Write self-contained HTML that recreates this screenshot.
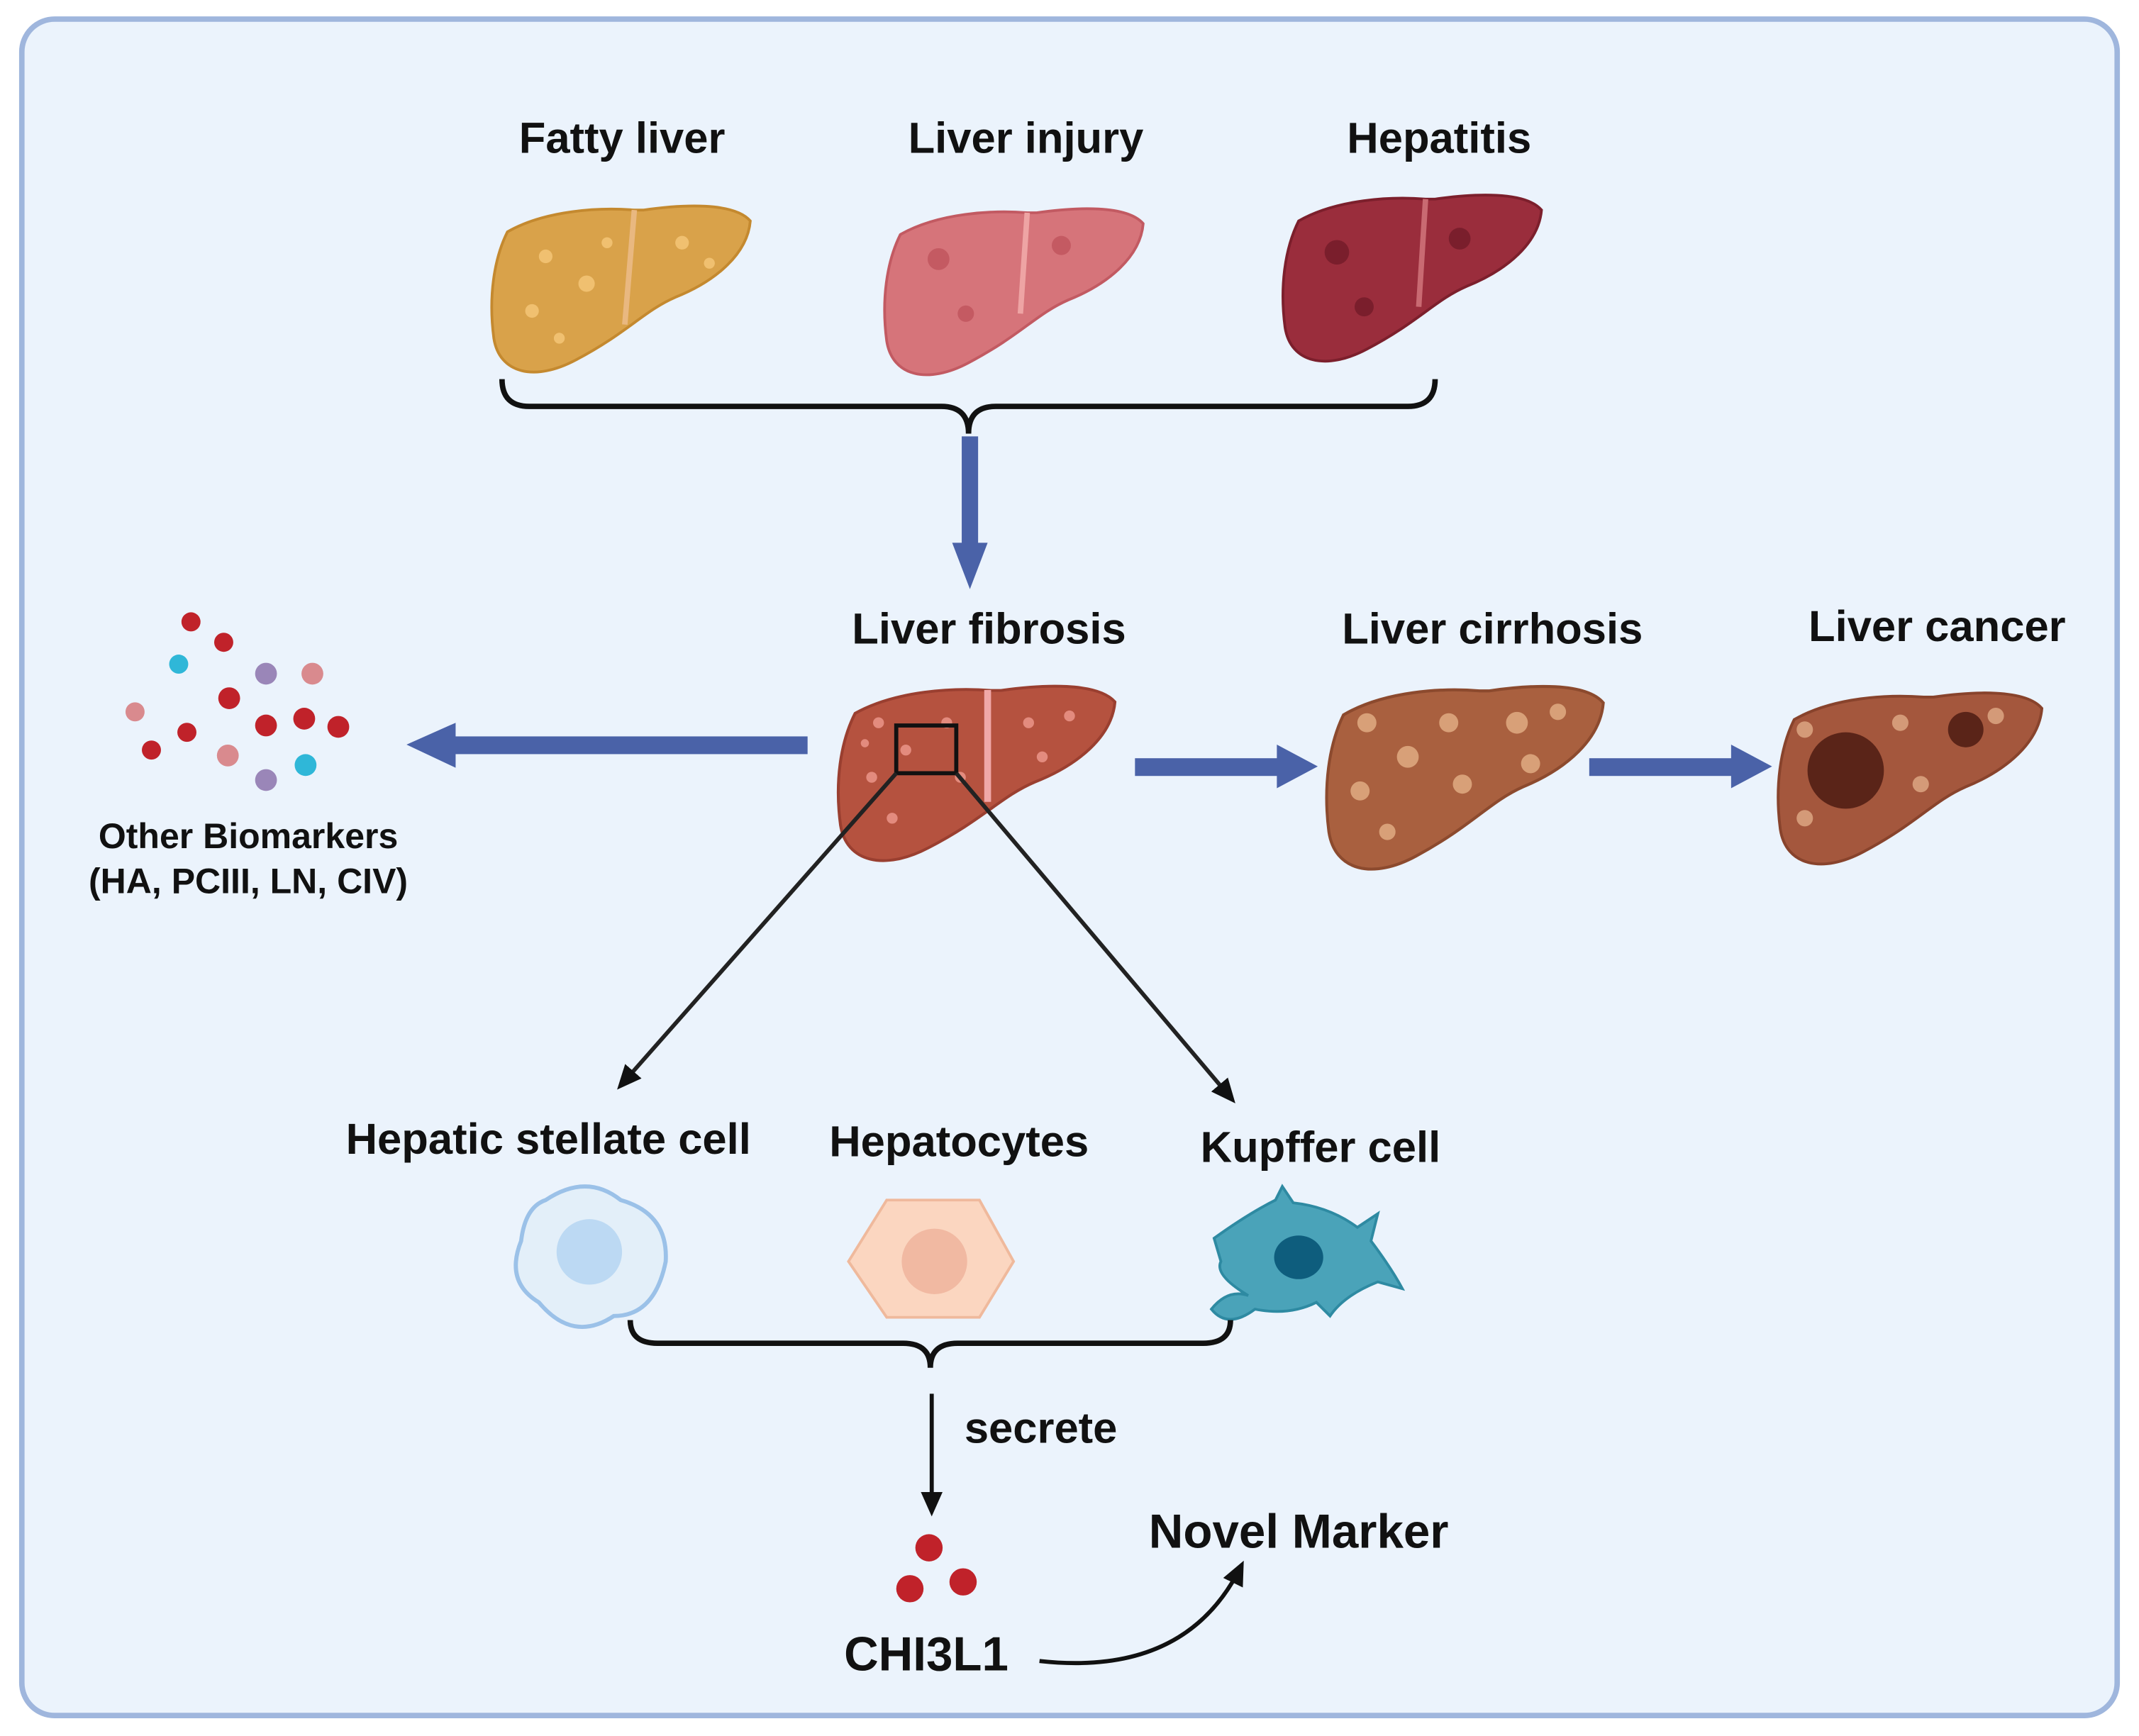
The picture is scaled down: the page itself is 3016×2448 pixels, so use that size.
<!DOCTYPE html>
<html><head><meta charset="utf-8"><style>
html,body{margin:0;padding:0;background:#fff;}
svg{display:block;}
text{font-family:"Liberation Sans",Arial,sans-serif;font-weight:bold;fill:#111;}
</style></head><body>
<svg width="3016" height="2448" viewBox="0 0 1568 1273" preserveAspectRatio="none" xmlns="http://www.w3.org/2000/svg">
<defs>
<path id="liv" d="M12,22 C40,6 80,4 105,6 L112,6 C140,2 178,0 190,14 C188,38 165,58 135,70 C112,80 100,96 62,116 C32,132 6,126 2,100 C-2,70 2,42 12,22 Z"/>
<marker id="ah" markerWidth="18" markerHeight="16" refX="14" refY="8" orient="auto" markerUnits="userSpaceOnUse"><path d="M0,0 L18,8 L0,16 Z" fill="#111"/></marker>
</defs>
<rect x="16" y="14" width="1536" height="1244" rx="24" fill="#ebf3fc" stroke="#9fb6dd" stroke-width="4"/>

<text x="456" y="112" font-size="32" text-anchor="middle">Fatty liver</text>
<text x="752" y="112" font-size="32" text-anchor="middle">Liver injury</text>
<text x="1055" y="112" font-size="32" text-anchor="middle">Hepatitis</text>

<g transform="translate(360,148)"><use href="#liv" fill="#d9a24a" stroke="#c4892f" stroke-width="2"/><line x1="105" y1="6" x2="98" y2="90" stroke="#e9b880" stroke-width="4"/>
<circle cx="40" cy="40" r="5" fill="#f0c070"/><circle cx="70" cy="60" r="6" fill="#f0c070"/><circle cx="30" cy="80" r="5" fill="#f0c070"/><circle cx="140" cy="30" r="5" fill="#f0c070"/><circle cx="160" cy="45" r="4" fill="#f0c070"/><circle cx="85" cy="30" r="4" fill="#f0c070"/><circle cx="50" cy="100" r="4" fill="#f0c070"/></g>
<g transform="translate(648,150)"><use href="#liv" fill="#d6747a" stroke="#c25a62" stroke-width="2"/><line x1="105" y1="6" x2="100" y2="80" stroke="#eea4a4" stroke-width="4"/>
<circle cx="40" cy="40" r="8" fill="#c45a62"/><circle cx="130" cy="30" r="7" fill="#c45a62"/><circle cx="60" cy="80" r="6" fill="#c45a62"/></g>
<g transform="translate(940,140)"><use href="#liv" fill="#9a2d3c" stroke="#7c1f2c" stroke-width="2"/><line x1="105" y1="6" x2="100" y2="85" stroke="#c96a72" stroke-width="4"/>
<circle cx="40" cy="45" r="9" fill="#7a1e2c"/><circle cx="130" cy="35" r="8" fill="#7a1e2c"/><circle cx="60" cy="85" r="7" fill="#7a1e2c"/></g>

<path d="M368,278 Q368,298 388,298 L690,298 Q710,298 710,318 Q710,298 730,298 L1032,298 Q1052,298 1052,278" fill="none" stroke="#111" stroke-width="4"/>
<rect x="705" y="320" width="12" height="80" fill="#4a62a8"/><path d="M698,398 L724,398 L711,432 Z" fill="#4a62a8"/>

<text x="725" y="472" font-size="32" text-anchor="middle">Liver fibrosis</text>
<text x="1094" y="472" font-size="32" text-anchor="middle">Liver cirrhosis</text>
<text x="1420" y="470" font-size="32" text-anchor="middle">Liver cancer</text>

<g transform="translate(614,500)"><use href="#liv" fill="#b5523f" stroke="#9a3f30" stroke-width="2" transform="scale(1.07,1.05)"/><line x1="110" y1="6" x2="110" y2="88" stroke="#f0a8a8" stroke-width="5"/>
<g fill="#e38b7e"><circle cx="30" cy="30" r="4"/><circle cx="50" cy="50" r="4"/><circle cx="25" cy="70" r="4"/><circle cx="80" cy="30" r="4"/><circle cx="140" cy="30" r="4"/><circle cx="170" cy="25" r="4"/><circle cx="150" cy="55" r="4"/><circle cx="40" cy="100" r="4"/><circle cx="90" cy="70" r="4"/><circle cx="20" cy="45" r="3"/></g></g>
<rect x="657" y="532" width="44" height="35" fill="none" stroke="#111" stroke-width="3"/>
<line x1="657" y1="567" x2="455" y2="796" stroke="#222" stroke-width="3" marker-end="url(#ah)"/>
<line x1="701" y1="567" x2="903" y2="806" stroke="#222" stroke-width="3" marker-end="url(#ah)"/>

<g transform="translate(972,500)"><use href="#liv" fill="#a9603f" stroke="#8c4a2e" stroke-width="2" transform="scale(1.07,1.1)"/>
<g fill="#d8a078"><circle cx="30" cy="30" r="7"/><circle cx="60" cy="55" r="8"/><circle cx="25" cy="80" r="7"/><circle cx="90" cy="30" r="7"/><circle cx="140" cy="30" r="8"/><circle cx="170" cy="22" r="6"/><circle cx="150" cy="60" r="7"/><circle cx="45" cy="110" r="6"/><circle cx="100" cy="75" r="7"/></g></g>
<g transform="translate(1303,505)"><use href="#liv" fill="#a4573d" stroke="#88432c" stroke-width="2" transform="scale(1.02,1.03)"/>
<circle cx="50" cy="60" r="28" fill="#5a2418"/><circle cx="138" cy="30" r="13" fill="#5a2418"/>
<g fill="#d49a78"><circle cx="20" cy="30" r="6"/><circle cx="90" cy="25" r="6"/><circle cx="160" cy="20" r="6"/><circle cx="20" cy="95" r="6"/><circle cx="105" cy="70" r="6"/></g></g>

<rect x="832" y="556" width="106" height="13" fill="#4a62a8"/><path d="M936,546 L966,562 L936,578 Z" fill="#4a62a8"/>
<rect x="1165" y="556" width="106" height="13" fill="#4a62a8"/><path d="M1269,546 L1299,562 L1269,578 Z" fill="#4a62a8"/>
<rect x="332" y="540" width="260" height="13" fill="#4a62a8"/><path d="M334,530 L298,546 L334,563 Z" fill="#4a62a8"/>

<g>
<circle cx="140" cy="456" r="7" fill="#c0222a"/><circle cx="164" cy="471" r="7" fill="#c0222a"/><circle cx="131" cy="487" r="7" fill="#2fb7d8"/>
<circle cx="195" cy="494" r="8" fill="#9a86b8"/><circle cx="229" cy="494" r="8" fill="#d98a8e"/><circle cx="99" cy="522" r="7" fill="#d98a8e"/>
<circle cx="168" cy="512" r="8" fill="#c0222a"/><circle cx="137" cy="537" r="7" fill="#c0222a"/><circle cx="111" cy="550" r="7" fill="#c0222a"/>
<circle cx="195" cy="532" r="8" fill="#c0222a"/><circle cx="223" cy="527" r="8" fill="#c0222a"/><circle cx="248" cy="533" r="8" fill="#c0222a"/>
<circle cx="167" cy="554" r="8" fill="#d98a8e"/><circle cx="224" cy="561" r="8" fill="#2fb7d8"/><circle cx="195" cy="572" r="8" fill="#9a86b8"/>
</g>
<text x="182" y="622" font-size="26" text-anchor="middle">Other Biomarkers</text>
<text x="182" y="655" font-size="26" text-anchor="middle">(HA, PCIII, LN, CIV)</text>

<text x="402" y="846" font-size="32" text-anchor="middle">Hepatic stellate cell</text>
<text x="703" y="848" font-size="32" text-anchor="middle">Hepatocytes</text>
<text x="968" y="852" font-size="32" text-anchor="middle">Kupffer cell</text>

<path d="M400,880 Q430,860 455,880 Q490,890 488,925 Q480,965 450,965 Q420,985 395,955 Q370,940 382,910 Q385,885 400,880 Z" fill="#e3eff9" stroke="#9bc1e8" stroke-width="3"/>
<circle cx="432" cy="918" r="24" fill="#bcd9f3"/>
<path d="M650,880 L718,880 L743,925 L718,966 L650,966 L622,925 Z" fill="#fbd6c0" stroke="#efb99c" stroke-width="2"/>
<circle cx="685" cy="925" r="24" fill="#f1b9a2"/>
<path d="M890,908 Q915,890 935,880 L940,870 L948,882 Q975,885 995,900 L1010,890 L1005,910 Q1020,930 1028,945 L1010,940 Q985,950 975,965 L965,955 Q945,965 920,960 Q900,975 888,960 Q900,945 915,950 Q890,935 895,925 Z" fill="#4aa3b9" stroke="#2e8aa2" stroke-width="2"/>
<ellipse cx="952" cy="922" rx="18" ry="16" fill="#0e5d7d"/>

<path d="M462,968 Q462,985 482,985 L662,985 Q682,985 682,1003 Q682,985 702,985 L882,985 Q902,985 902,968" fill="none" stroke="#111" stroke-width="4"/>
<line x1="683" y1="1022" x2="683" y2="1108" stroke="#111" stroke-width="3" marker-end="url(#ah)"/>
<text x="763" y="1058" font-size="32" text-anchor="middle">secrete</text>

<circle cx="681" cy="1135" r="10" fill="#c0222a"/><circle cx="667" cy="1165" r="10" fill="#c0222a"/><circle cx="706" cy="1160" r="10" fill="#c0222a"/>
<text x="679" y="1225" font-size="35" text-anchor="middle">CHI3L1</text>
<text x="952" y="1135" font-size="35" text-anchor="middle">Novel Marker</text>
<path d="M762,1218 Q870,1230 910,1148" fill="none" stroke="#111" stroke-width="3" marker-end="url(#ah)"/>
</svg>
</body></html>
